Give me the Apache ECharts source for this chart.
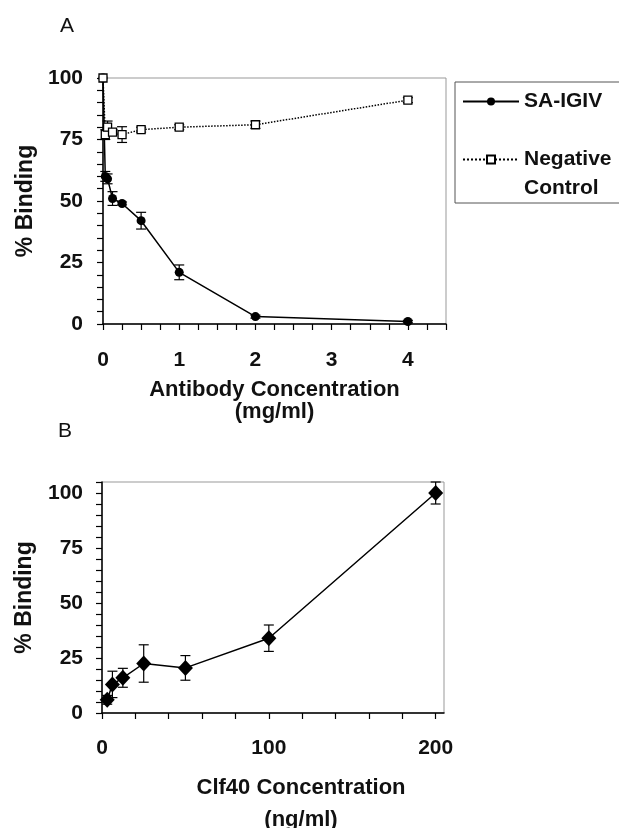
<!DOCTYPE html>
<html>
<head>
<meta charset="utf-8">
<script src="https://cdn.jsdelivr.net/npm/echarts@6/dist/echarts.min.js"></script>
<style>
  html, body { margin: 0; padding: 0; background: #fff; }
  #chart { width: 619px; height: 828px; }
</style>
</head>
<body>
<div id="chart"></div>
<script>
// panel A: antibody concentration (mg/ml) vs % binding
const abConc = [0, 0.03, 0.06, 0.125, 0.25, 0.5, 1, 2, 4]
const saIgiv = [100, 60, 59, 51, 49, 42, 21, 3, 1]
const saErr = [0, 2, 2, 2.8, 0.6, 3.4, 3, 0.6, 0.5]
const negCtrl = [100, 77, 80, 78, 77, 79, 80, 81, 91]
const negErr = [0, 2, 2.5, 1, 3.2, 1, 1, 1.5, 1]
const abTicks = [0, 1, 2, 3, 4]

// panel B: Clf40 concentration (ng/ml) vs % binding
const clfConc = [3.125, 6.25, 12.5, 25, 50, 100, 200]
const clfBinding = [6, 13, 16, 22.5, 20.5, 34, 100]
const clfErr = [2, 6, 4.3, 8.5, 5.6, 6, 5]
const clfTicks = [0, 100, 200]
const clfMinorTicks = [0, 20, 40, 60, 80, 100, 120, 140, 160, 180, 200]

const bindingTicks = [0, 25, 50, 75, 100]

const FONT = '"Liberation Sans", Arial, sans-serif'

const chart = echarts.init(document.getElementById('chart'))

function errorBar(params, api) {
  const x = api.value(0)
  const y = api.value(1)
  const e = api.value(2)
  if (!e) return
  const hi = api.coord([x, y + e])
  const lo = api.coord([x, y - e])
  const w = 5
  const style = { stroke: '#000', lineWidth: 1.2 }
  return {
    type: 'group',
    children: [
      { type: 'line', shape: { x1: hi[0], y1: hi[1], x2: lo[0], y2: lo[1] }, style },
      { type: 'line', shape: { x1: hi[0] - w, y1: hi[1], x2: hi[0] + w, y2: hi[1] }, style },
      { type: 'line', shape: { x1: lo[0] - w, y1: lo[1], x2: lo[0] + w, y2: lo[1] }, style }
    ]
  }
}

const tickLabel = {
  fontFamily: FONT,
  fontWeight: 'bold',
  fontSize: 21,
  color: '#111'
}
const nameStyle = {
  fontFamily: FONT,
  fontWeight: 'bold',
  fontSize: 22,
  color: '#111'
}
const yNameStyle = Object.assign({}, nameStyle, { fontSize: 23 })
const axisLine = { show: true, lineStyle: { color: '#000', width: 1.5 } }
const axisTick = { show: true, inside: false, length: 6, lineStyle: { color: '#000', width: 1.2 } }

const option = {
  backgroundColor: '#fff',
  animation: false,
  title: [
    { text: 'A', left: 55, top: 11, textStyle: { fontFamily: FONT, fontWeight: 'normal', fontSize: 21, color: '#111' } },
    { text: 'B', left: 53, top: 416, textStyle: { fontFamily: FONT, fontWeight: 'normal', fontSize: 21, color: '#111' } }
  ],
  legend: {
    left: 455,
    top: 82,
    orient: 'vertical',
    borderColor: '#555',
    borderWidth: 1,
    padding: [5, 60, 0, 7],
    itemWidth: 56,
    itemHeight: 10,
    itemGap: 0,
    textStyle: { fontFamily: FONT, fontWeight: 'bold', fontSize: 21, color: '#111', lineHeight: 29 },
    formatter: name => name === 'Negative Control' ? '\nNegative\nControl' : name,
    data: ['SA-IGIV', 'Negative Control']
  },
  grid: [
    { left: 103, top: 78, width: 343, height: 246, outerBoundsMode: 'none', show: true, borderColor: '#999', borderWidth: 1 },
    { left: 102, top: 482, width: 342, height: 231, outerBoundsMode: 'none', show: true, borderColor: '#999', borderWidth: 1 }
  ],
  xAxis: [
    {
      type: 'value', gridIndex: 0, min: 0, max: 4.5, interval: 0.25,
      name: 'Antibody Concentration\n(mg/ml)',
      nameLocation: 'middle', nameGap: 55,
      nameTextStyle: Object.assign({ lineHeight: 22 }, nameStyle),
      axisLine, axisTick,
      axisLabel: Object.assign({ margin: 26, customValues: abTicks }, tickLabel),
      splitLine: { show: false }
    },
    {
      type: 'value', gridIndex: 1, min: 0, max: 205,
      name: 'Clf40 Concentration\n(ng/ml)',
      nameLocation: 'middle', nameGap: 59,
      nameTextStyle: Object.assign({ lineHeight: 32, padding: [0, 0, 0, 56] }, nameStyle),
      axisLine,
      axisTick: Object.assign({ customValues: clfMinorTicks }, axisTick),
      axisLabel: Object.assign({ margin: 25, customValues: clfTicks }, tickLabel),
      splitLine: { show: false }
    }
  ],
  yAxis: [
    {
      type: 'value', gridIndex: 0, min: 0, max: 100, interval: 5,
      name: '% Binding', nameLocation: 'middle', nameGap: 66, nameTextStyle: yNameStyle,
      axisLine, axisTick,
      axisLabel: Object.assign({ margin: 20, customValues: bindingTicks }, tickLabel),
      splitLine: { show: false }
    },
    {
      type: 'value', gridIndex: 1, min: 0, max: 105, interval: 5,
      name: '% Binding', nameLocation: 'middle', nameGap: 66, nameTextStyle: yNameStyle,
      axisLine, axisTick,
      axisLabel: Object.assign({ margin: 19, customValues: bindingTicks }, tickLabel),
      splitLine: { show: false }
    }
  ],
  series: [
    {
      type: 'custom', xAxisIndex: 0, yAxisIndex: 0, z: 1,
      renderItem: errorBar,
      data: abConc.map((x, i) => [x, saIgiv[i], saErr[i]])
    },
    {
      type: 'custom', xAxisIndex: 0, yAxisIndex: 0, z: 1,
      renderItem: errorBar,
      data: abConc.map((x, i) => [x, negCtrl[i], negErr[i]])
    },
    {
      name: 'SA-IGIV', type: 'line', xAxisIndex: 0, yAxisIndex: 0, z: 3,
      data: abConc.map((x, i) => [x, saIgiv[i]]),
      symbol: 'circle', symbolSize: 9,
      lineStyle: { color: '#000', width: 1.5 },
      itemStyle: { color: '#000' }
    },
    {
      name: 'Negative Control', type: 'line', xAxisIndex: 0, yAxisIndex: 0, z: 4,
      data: abConc.map((x, i) => [x, negCtrl[i]]),
      symbol: 'rect', symbolSize: 8,
      lineStyle: { color: '#000', width: 1.5, type: 'dotted' },
      itemStyle: { color: '#fff', borderColor: '#000', borderWidth: 1.3 }
    },
    {
      type: 'custom', xAxisIndex: 1, yAxisIndex: 1, z: 1,
      renderItem: errorBar,
      data: clfConc.map((x, i) => [x, clfBinding[i], clfErr[i]])
    },
    {
      name: 'Clf40', type: 'line', xAxisIndex: 1, yAxisIndex: 1, z: 3,
      data: clfConc.map((x, i) => [x, clfBinding[i]]),
      symbol: 'diamond', symbolSize: [15, 16],
      lineStyle: { color: '#000', width: 1.5 },
      itemStyle: { color: '#000' }
    }
  ]
}

chart.setOption(option)
</script>
</body>
</html>
